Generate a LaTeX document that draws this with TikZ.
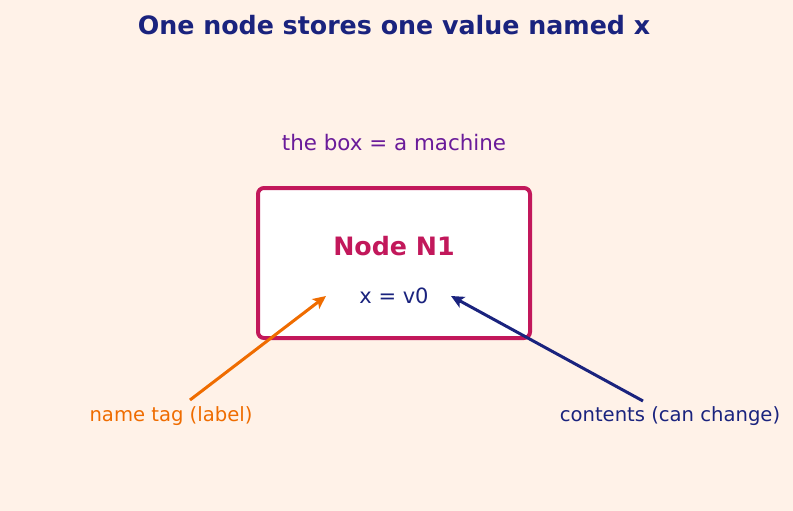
\documentclass[tikz,border=0pt]{standalone}
\usepackage{fontspec}
\setmainfont{DejaVu Sans}
\usetikzlibrary{arrows.meta}
\definecolor{bg}{HTML}{FFF2E8}
\definecolor{navy}{HTML}{1A237E}
\definecolor{crim}{HTML}{C2185B}
\definecolor{purp}{HTML}{6A1B9A}
\definecolor{orng}{HTML}{EF6C00}
\tikzset{
  txt/.style={inner sep=0pt, anchor=center},
  machine/.style={draw=crim, line width=4pt, fill=white, rounded corners=6pt, minimum width=272pt, minimum height=150pt, inner sep=0pt},
  pointer/.style={line width=3pt, -{Stealth[length=13pt,width=12pt,inset=3pt]}},
}
\begin{document}
\begin{tikzpicture}[x=1pt,y=-1pt]
\fill[bg] (0,0) rectangle (793,511);
\useasboundingbox (0,0) rectangle (793,511);
\node[txt, text=navy, font=\fontsize{25.3}{30}\selectfont\bfseries] (title) at (394,25) {One node stores one value named x};
\node[txt, text=purp, font=\fontsize{21.4}{25}\selectfont] (cap) at (394,143) {the box = a machine};
\node[machine] (box) at (394,263) {};
\node[txt, text=crim, font=\fontsize{25.3}{30}\selectfont\bfseries] (name) at (394,246) {Node N1};
\node[txt, text=navy, font=\fontsize{21}{25}\selectfont] (val) at (394,296) {x = v0};
\node[txt, text=orng, font=\fontsize{19.6}{24}\selectfont] (lab1) at (171,416) {name tag (label)};
\node[txt, text=navy, font=\fontsize{19.6}{24}\selectfont] (lab2) at (670,416) {contents (can change)};
\coordinate (o1) at (190,400);
\coordinate (o2) at (326,296);
\coordinate (n1) at (643,401);
\coordinate (n2) at (451,296);
\draw[pointer, orng] (o1) -- (o2);
\draw[pointer, navy] (n1) -- (n2);
\end{tikzpicture}
\end{document}
